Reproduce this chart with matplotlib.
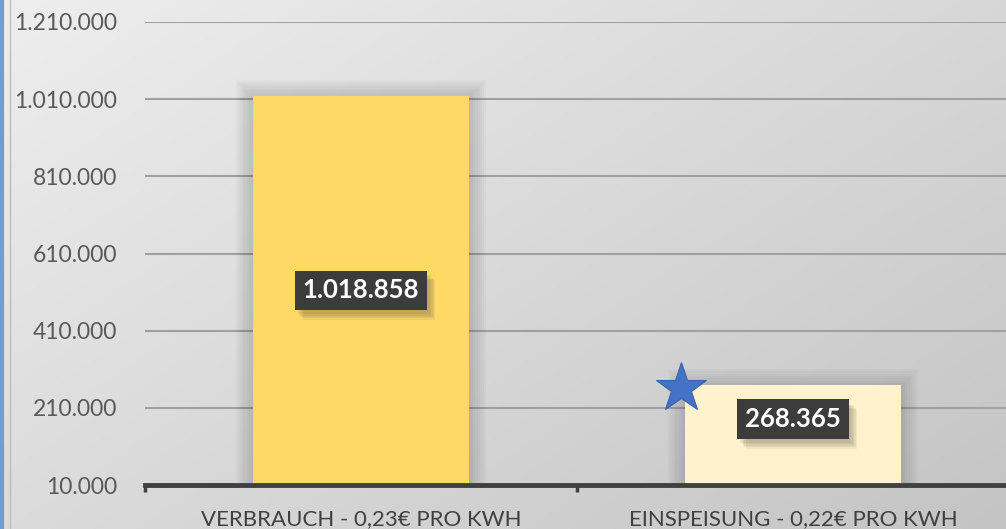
import numpy as np
import matplotlib.pyplot as plt
import matplotlib.patheffects as pe
from matplotlib.patches import Rectangle
from matplotlib.lines import Line2D

categories = ['VERBRAUCH - 0,23€ PRO KWH', 'EINSPEISUNG - 0,22€ PRO KWH']
values = [1018858, 268365]
bar_colors = ['#FFD966', '#FFF2CC']
label_texts = ['1.018.858', '268.365']
y_ticks = [10000, 210000, 410000, 610000, 810000, 1010000, 1210000]
y_base = 10000

plt.rcParams['font.family'] = ['Lato', 'DejaVu Sans']

W, H = 1006, 529
fig = plt.figure(figsize=(W / 100, H / 100), dpi=100)

# hintergrund mit verlauf
bg = fig.add_axes([0, 0, 1, 1], zorder=-5)
xx, yy = np.meshgrid(np.linspace(0, 1, 300), np.linspace(0, 1, 160))
t = 0.55 * xx + 0.45 * yy
grey = (238 - 42 * t) / 255
bg.imshow(np.dstack([grey, grey, grey]), aspect='auto', extent=[0, 1, 0, 1], origin='upper')
bg.axis('off')
fig.add_artist(Line2D([1.5 / W, 1.5 / W], [0, 1], color='#6E9FD2', lw=3))
fig.add_artist(Line2D([10 / W, 10 / W], [0, 1], color='#BDBDBD', lw=1))

ax = fig.add_axes([145 / W, 44 / H, 864 / W, 463 / H])
ax.patch.set_alpha(0)
x = np.arange(len(categories))
ax.set_xlim(-0.5, 1.5)
ax.set_ylim(y_ticks[0], y_ticks[-1])

# weicher schatten neben den balken
for xi, v in zip(x, values):
    for k in range(8):
        d = 0.005 * (k + 1)
        ax.add_patch(Rectangle((xi - 0.25 - d, y_base), 0.5 + 2 * d, v - y_base + 6000 * k,
                               color='black', alpha=0.02, lw=0, zorder=1))

ax.bar(x, [v - y_base for v in values], bottom=y_base, width=0.5, color=bar_colors, zorder=3)

for yt in y_ticks[1:]:
    ax.axhline(yt, color='#A0A0A0', lw=1.5, zorder=0.5)

ax.set_yticks(y_ticks)
ax.set_yticklabels([f'{v:,}'.replace(',', '.') for v in y_ticks])
ax.tick_params(axis='y', length=0, pad=20, labelsize=16.5, labelcolor='#595959')

ax.set_xticks(x)
ax.set_xticklabels(categories)
ax.tick_params(axis='x', which='major', length=0, pad=17, labelsize=16, labelcolor='#404040')
ax.set_xticks([-0.5, 0.5, 1.5], minor=True)
ax.tick_params(axis='x', which='minor', length=5, width=2.5, color='#404040', direction='out')

for s in ['top', 'right', 'left']:
    ax.spines[s].set_visible(False)
ax.spines['bottom'].set_linewidth(3.5)
ax.spines['bottom'].set_color('#404040')
ax.spines['bottom'].set_zorder(4)

# datenbeschriftungen, schatten weich aus mehreren lagen
shadows = [pe.SimplePatchShadow(offset=(2 + k, -3 - k), shadow_rgbFace='#5E5848', alpha=0.09)
           for k in range(5)]
label_frac = [0.5, 0.66]
for xi, v, txt, f in zip(x, values, label_texts, label_frac):
    ly = y_base + f * (v - y_base)
    t_ = ax.text(xi, ly, txt, ha='center', va='center', fontsize=18.5, fontweight='bold', color='white',
                 zorder=6, bbox=dict(boxstyle='square,pad=0.3', fc='#3C3C3C', ec='none'))
    t_.get_bbox_patch().set_path_effects(shadows + [pe.Normal()])

ax.plot(x[1] - 0.26, values[1] - 6000, marker='*', ms=38, color='#4472C4', mec='#3B64AD', mew=0.8,
        zorder=7, clip_on=False)

fig.savefig('out.png', dpi=100)
